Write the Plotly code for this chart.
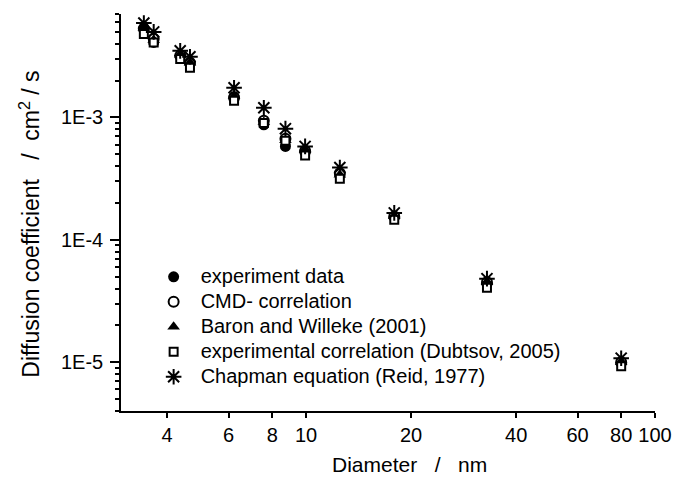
import math
import plotly.graph_objects as go

# Particle diameter (nm)
diameter_nm = [3.43, 3.66, 4.36, 4.65, 6.22, 7.57, 8.73, 9.94, 12.5, 17.9, 33.0, 80.0]

# Diffusion coefficients (cm^2/s)
experiment_data = [5.4e-3, 4.1e-3, 3.2e-3, 2.75e-3, 1.48e-3, 8.7e-4, 5.8e-4, 5.4e-4, 3.4e-4, 1.55e-4, 4.4e-5, 1.0e-5]
cmd_correlation = [5.3e-3, 4.4e-3, 3.2e-3, 2.8e-3, 1.45e-3, 9.4e-4, 6.7e-4, 5.3e-4, 3.5e-4, 1.55e-4, 4.5e-5, 1.0e-5]
baron_willeke = [5.4e-3, 4.3e-3, 3.25e-3, 2.8e-3, 1.5e-3, 9.2e-4, 6.5e-4, 5.4e-4, 3.4e-4, 1.56e-4, 4.5e-5, 1.0e-5]
dubtsov_corr = [4.8e-3, 4.1e-3, 3.0e-3, 2.55e-3, 1.37e-3, 9.0e-4, 6.45e-4, 4.9e-4, 3.16e-4, 1.46e-4, 4.07e-5, 9.3e-6]
chapman_eq = [5.9e-3, 5.0e-3, 3.5e-3, 3.13e-3, 1.75e-3, 1.2e-3, 8.1e-4, 5.8e-4, 3.9e-4, 1.66e-4, 4.82e-5, 1.08e-5]

series_names = [
    "experiment data",
    "CMD- correlation",
    "Baron and Willeke (2001)",
    "experimental correlation (Dubtsov, 2005)",
    "Chapman equation (Reid, 1977)",
]

# Axis ticks
x_tickvals = [4, 6, 8, 10, 20, 40, 60, 80, 100]
x_ticktext = ["4", "6", "8", "10", "20", "40", "60", "80", "100"]
x_long_ticks = [10, 100]
y_tickvals = [1e-5, 1e-4, 1e-3]
y_ticktext = ["1E-5", "1E-4", "1E-3"]
y_minor = [m * 10.0 ** e for e in (-6, -5, -4, -3) for m in range(2, 10)]

x_range = [math.log10(2.95), 2.0]
y_range = [math.log10(4e-6), math.log10(7e-3)]

FONT = "Liberation Sans, Arial, sans-serif"
BLACK = "black"
LEGEND_TEXT_PX = 20


def legend_label(text):
    return f"<span style='font-size:{LEGEND_TEXT_PX}px'>{text}</span>"


marker_styles = [
    dict(symbol="circle", size=11, color=BLACK, line=dict(width=0)),
    dict(symbol="circle", size=10, color="white", line=dict(width=2, color=BLACK)),
    dict(symbol="triangle-up", size=11, color=BLACK, line=dict(width=0)),
    dict(symbol="square", size=8, color="white", line=dict(width=2, color=BLACK)),
    dict(symbol="asterisk-open", size=13, color=BLACK, line=dict(width=2, color=BLACK)),
]
series_values = [experiment_data, cmd_correlation, baron_willeke, dubtsov_corr, chapman_eq]

fig = go.Figure()
for name, values, style in zip(series_names, series_values, marker_styles):
    fig.add_trace(go.Scatter(x=diameter_nm, y=values, mode="markers",
                             name=legend_label(name), marker=style))

axis_common = dict(type="log", showgrid=False, zeroline=False, showline=True,
                   linecolor=BLACK, linewidth=1.5, tickcolor=BLACK, tickwidth=1.5)

fig.update_layout(
    width=684, height=481,
    margin=dict(l=121, r=21, t=14, b=70),
    paper_bgcolor="white", plot_bgcolor="white",
    font=dict(family=FONT, color=BLACK),
    showlegend=True,
    legend=dict(x=0.048, xanchor="left", y=0.382, yanchor="top",
                bgcolor="rgba(0,0,0,0)", font=dict(size=16.9, family=FONT),
                itemwidth=44, tracegroupgap=0),
    xaxis=dict(**axis_common, range=x_range, tickmode="array",
               tickvals=x_tickvals, ticktext=x_ticktext, ticks="outside", ticklen=5,
               tickfont=dict(size=20, family=FONT)),
    xaxis2=dict(**axis_common, range=x_range, overlaying="x", side="top", anchor="y",
                tickmode="array", tickvals=x_tickvals, ticks="inside", ticklen=5,
                showticklabels=False),
    xaxis3=dict(type="log", range=x_range, overlaying="x", side="bottom", anchor="y",
                showgrid=False, zeroline=False, showline=False,
                tickmode="array", tickvals=x_long_ticks, ticks="outside", ticklen=9,
                tickwidth=1.5, tickcolor=BLACK, showticklabels=False),
    yaxis=dict(**axis_common, range=y_range, tickmode="array",
               tickvals=y_tickvals, ticktext=y_ticktext, ticks="outside", ticklen=9,
               ticklabelstandoff=3,
               minor=dict(tickmode="array", tickvals=y_minor, ticks="outside",
                          ticklen=4.5, tickwidth=1.5, tickcolor=BLACK),
               tickfont=dict(size=20, family=FONT)),
    yaxis2=dict(**axis_common, range=y_range, overlaying="y", side="right", anchor="x",
                tickmode="array", tickvals=y_tickvals, ticks="inside", ticklen=8,
                minor=dict(tickmode="array", tickvals=y_minor, ticks="inside",
                           ticklen=4, tickwidth=1.5, tickcolor=BLACK),
                showticklabels=False),
    annotations=[
        dict(text="Diameter\u00a0\u00a0\u00a0/\u00a0\u00a0\u00a0nm",
             xref="paper", yref="paper", x=0.54, y=-0.135,
             xanchor="center", yanchor="middle", showarrow=False,
             font=dict(size=21, family=FONT, color=BLACK)),
        dict(text="Diffusion coefficient\u00a0\u00a0\u00a0/\u00a0\u00a0cm<sup>2</sup> / s",
             xref="paper", yref="paper", x=-0.17, y=0.47,
             xanchor="center", yanchor="middle", textangle=-90, showarrow=False,
             font=dict(size=23, family=FONT, color=BLACK)),
    ],
)

fig.write_html("out.html")
